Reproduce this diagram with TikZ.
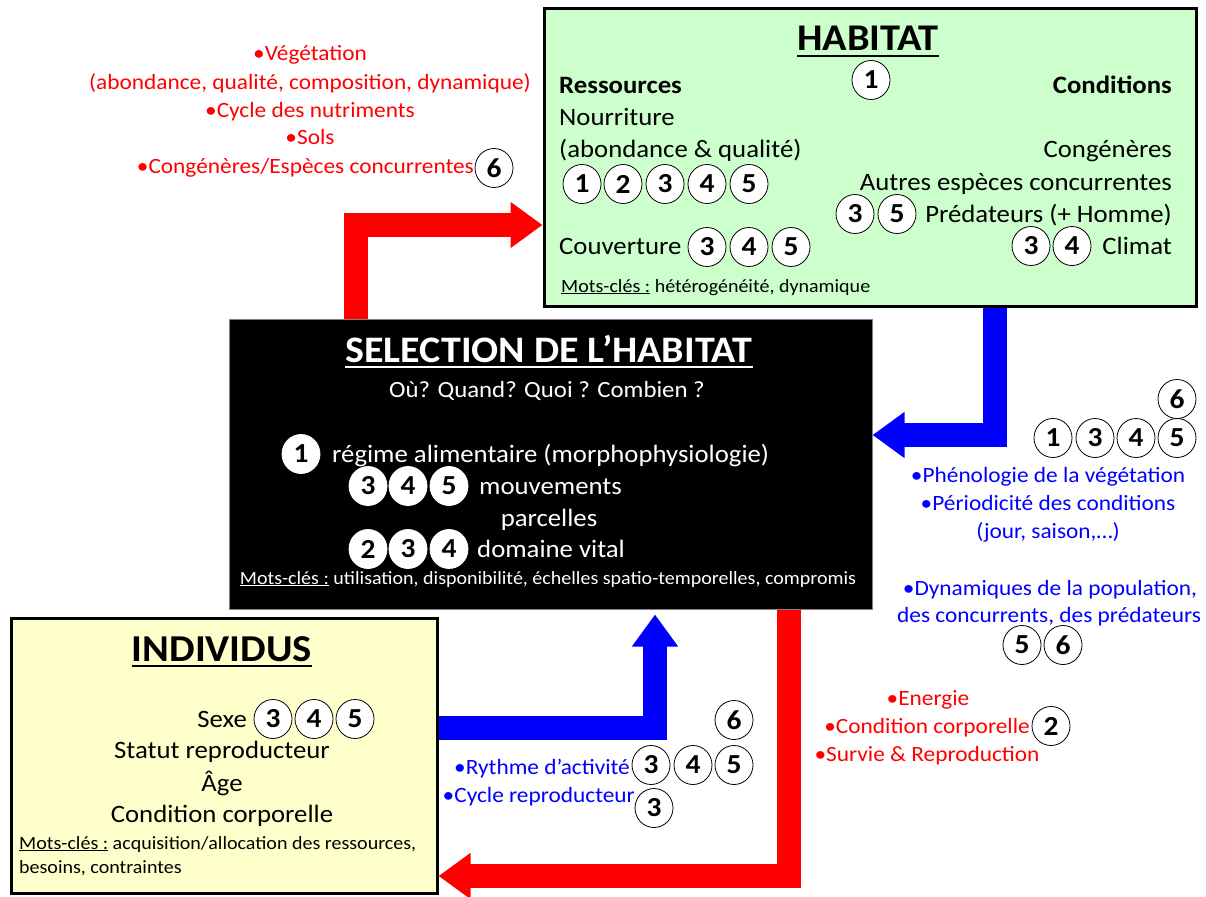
\documentclass[tikz,border=0pt]{standalone}
\usepackage{fontspec}
\setmainfont{Carlito}[FakeStretch=1.07]
\usetikzlibrary{arrows.meta,shapes.geometric}
\definecolor{hgreen}{HTML}{CCFFCC}
\definecolor{iyellow}{HTML}{FFFFCC}
\definecolor{rred}{HTML}{FF0000}
\definecolor{bblue}{HTML}{0000FF}
\begin{document}
\begin{tikzpicture}[x=1pt,y=-1pt,
  body/.style={inner sep=0, font=\fontsize{25}{30}\selectfont},
  bodyb/.style={inner sep=0, font=\fontsize{25}{30}\selectfont\bfseries},
  side/.style={inner sep=0, font=\fontsize{21.8}{26}\selectfont},
  kw/.style={inner sep=0, font=\fontsize{18.7}{22}\selectfont},
  ttl/.style={inner sep=0, font=\fontsize{37.7}{42}\selectfont\bfseries},
  num/.style={ellipse, draw=black, fill=white, minimum width=38, minimum height=39, inner sep=0, line width=0.8, font=\fontsize{27.5}{27.5}\selectfont\bfseries},
  numw/.style={num, draw=white},
  arr/.style={line width=24, line join=miter, -{Triangle[length=32pt,width=44pt]}},
  ul/.style={line width=2.5}
]
\useasboundingbox (0,0) rectangle (1206,896);
\fill[white] (0,0) rectangle (1206,896);

% boxes
\node[draw=black, line width=3, fill=hgreen, minimum width=652, minimum height=297, anchor=north west, inner sep=0] (hab) at (542.5,7.5) {};
\node[draw=gray, line width=1, fill=black, minimum width=643, minimum height=290, anchor=north west, inner sep=0] (sel) at (228.5,318.5) {};
\node[draw=black, line width=3, fill=iyellow, minimum width=426, minimum height=275, anchor=north west, inner sep=0] (ind) at (9.5,616.5) {};

% arrows
\draw[arr, rred] ([xshift=127pt]sel.north west) |- (hab.west |- 0,225);
\draw[arr, bblue] ([xshift=452.5pt]hab.south west) |- (sel.east |- 0,435);
\draw[arr, bblue] (ind.east |- 0,728) -| ([shift={(426.5,5)}]sel.south west);
\draw[arr, rred] ([xshift=560pt]sel.south west) |- (ind.east |- 0,876);

% HABITAT
\node[ttl, anchor=base] (habt) at (868,51) {HABITAT};
\draw[ul] ([yshift=-5pt]habt.base west) -- ([yshift=-5pt]habt.base east);
\node[num] (hn1) at (871,80) {1};
\node[bodyb, anchor=base west] (res) at (559,94) {Ressources};
\node[bodyb, anchor=base east] (cond) at (1172,94) {Conditions};
\node[body, anchor=base west] (nour) at (559,126) {Nourriture};
\node[body, anchor=base west] (abq) at (559,158) {(abondance \& qualité)};
\foreach \n/\x [count=\i] in {1/582,2/623,3/665,4/707,5/749}
  \node[num] (hf\i) at (\x,184) {\n};
\node[body, anchor=base east] (cong) at (1172,158) {Congénères};
\node[body, anchor=base east] (autr) at (1172,190) {Autres espèces concurrentes};
\node[body, anchor=base east] (pred) at (1172,222) {Prédateurs (+ Homme)};
\foreach \n/\x [count=\i] in {3/855,5/897}
  \node[num] (hp\i) at (\x,214) {\n};
\node[body, anchor=base west] (couv) at (559,254) {Couverture};
\foreach \n/\x [count=\i] in {3/707,4/749,5/791}
  \node[num] (hc\i) at (\x,247) {\n};
\node[body, anchor=base east] (clim) at (1172,254) {Climat};
\foreach \n/\x [count=\i] in {3/1031,4/1072}
  \node[num] (hk\i) at (\x,246) {\n};
\node[kw, anchor=base west] (hkw) at (561,292) {\underline{Mots-clés :} hétérogénéité, dynamique};

% red text top-left
\node[side, text=rred, anchor=base] (r1) at (310,61) {•Végétation};
\node[side, text=rred, anchor=base] (r2) at (310,90) {(abondance, qualité, composition, dynamique)};
\node[side, text=rred, anchor=base] (r3) at (310,118) {•Cycle des nutriments};
\node[side, text=rred, anchor=base] (r4) at (310,145) {•Sols};
\node[side, text=rred, anchor=base east] (r5) at (474,174) {•Congénères/Espèces concurrentes};
\node[num] (r6) at (494,168) {6};

% SELECTION
\node[ttl, text=white, font=\fontsize{37.4}{42}\selectfont\bfseries, anchor=base] (selt) at (549,362) {SELECTION DE L’HABITAT};
\draw[ul, white] ([yshift=-5pt]selt.base west) -- ([yshift=-5pt]selt.base east);
\node[body, text=white, font=\fontsize{23.2}{28}\selectfont, anchor=base] (oq) at (547,397) {Où? Quand? Quoi ? Combien ?};
\node[numw] (s1) at (301,454) {1};
\node[body, text=white, anchor=base west] (reg) at (332,462) {régime alimentaire (morphophysiologie)};
\foreach \n/\x [count=\i] in {3/368,4/408,5/449}
  \node[numw] (sm\i) at (\x,486) {\n};
\node[body, text=white, anchor=base west] (mouv) at (479,494) {mouvements};
\node[body, text=white, anchor=base] (parc) at (549,526) {parcelles};
\foreach \n/\x [count=\i] in {2/368,3/408,4/449}
  \node[numw] (sd\i) at (\x,549) {\n};
\node[body, text=white, anchor=base west] (dom) at (477,557) {domaine vital};
\node[kw, text=white, anchor=base] (skw) at (548,584) {\underline{Mots-clés :} utilisation, disponibilité, échelles spatio-temporelles, compromis};

% blue right text
\node[num] (b6) at (1177,399) {6};
\foreach \n/\x [count=\i] in {1/1053,3/1095,4/1136,5/1177}
  \node[num] (bq\i) at (\x,438) {\n};
\node[side, text=bblue, anchor=base] (b1) at (1048,482) {•Phénologie de la végétation};
\node[side, text=bblue, anchor=base] (b2) at (1048,510) {•Périodicité des conditions};
\node[side, text=bblue, anchor=base] (b3) at (1048,538) {(jour, saison,…)};
\node[side, text=bblue, anchor=base] (b4) at (1050,595) {•Dynamiques de la population,};
\node[side, text=bblue, anchor=base] (b5) at (1049,622) {des concurrents, des prédateurs};
\foreach \n/\x [count=\i] in {5/1022,6/1063}
  \node[num] (bd\i) at (\x,645) {\n};

% INDIVIDUS
\node[ttl, font=\fontsize{38}{42}\selectfont\bfseries, anchor=base] (indt) at (222,661) {INDIVIDUS};
\draw[ul] ([yshift=-5pt]indt.base west) -- ([yshift=-5pt]indt.base east);
\node[body, anchor=base east] (sexe) at (247,727) {Sexe};
\foreach \n/\x [count=\i] in {3/273,4/314,5/355}
  \node[num] (is\i) at (\x,719) {\n};
\node[body, anchor=base] (stat) at (222,758) {Statut reproducteur};
\node[body, anchor=base] (age) at (222,791) {Âge};
\node[body, anchor=base] (ccorp) at (222,822) {Condition corporelle};
\node[kw, anchor=base west] (ikw1) at (19,849) {\underline{Mots-clés :} acquisition/allocation des ressources,};
\node[kw, anchor=base west] (ikw2) at (19,873) {besoins, contraintes};

% bottom-middle blue
\node[num] (m6) at (734,720) {6};
\node[side, text=bblue, anchor=base east] (ry) at (630,774) {•Rythme d’activité};
\foreach \n/\x [count=\i] in {3/651,4/693,5/734}
  \node[num] (mr\i) at (\x,765) {\n};
\node[side, text=bblue, anchor=base east] (cy) at (635,802) {•Cycle reproducteur};
\node[num] (mc3) at (654,808) {3};

% bottom-right red
\node[side, text=rred, anchor=base] (e1) at (928,705) {•Energie};
\node[side, text=rred, anchor=base east] (e2) at (1030,733) {•Condition corporelle};
\node[num] (e2n) at (1051,726) {2};
\node[side, text=rred, anchor=base] (e3) at (927,761) {•Survie \& Reproduction};
\end{tikzpicture}
\end{document}
